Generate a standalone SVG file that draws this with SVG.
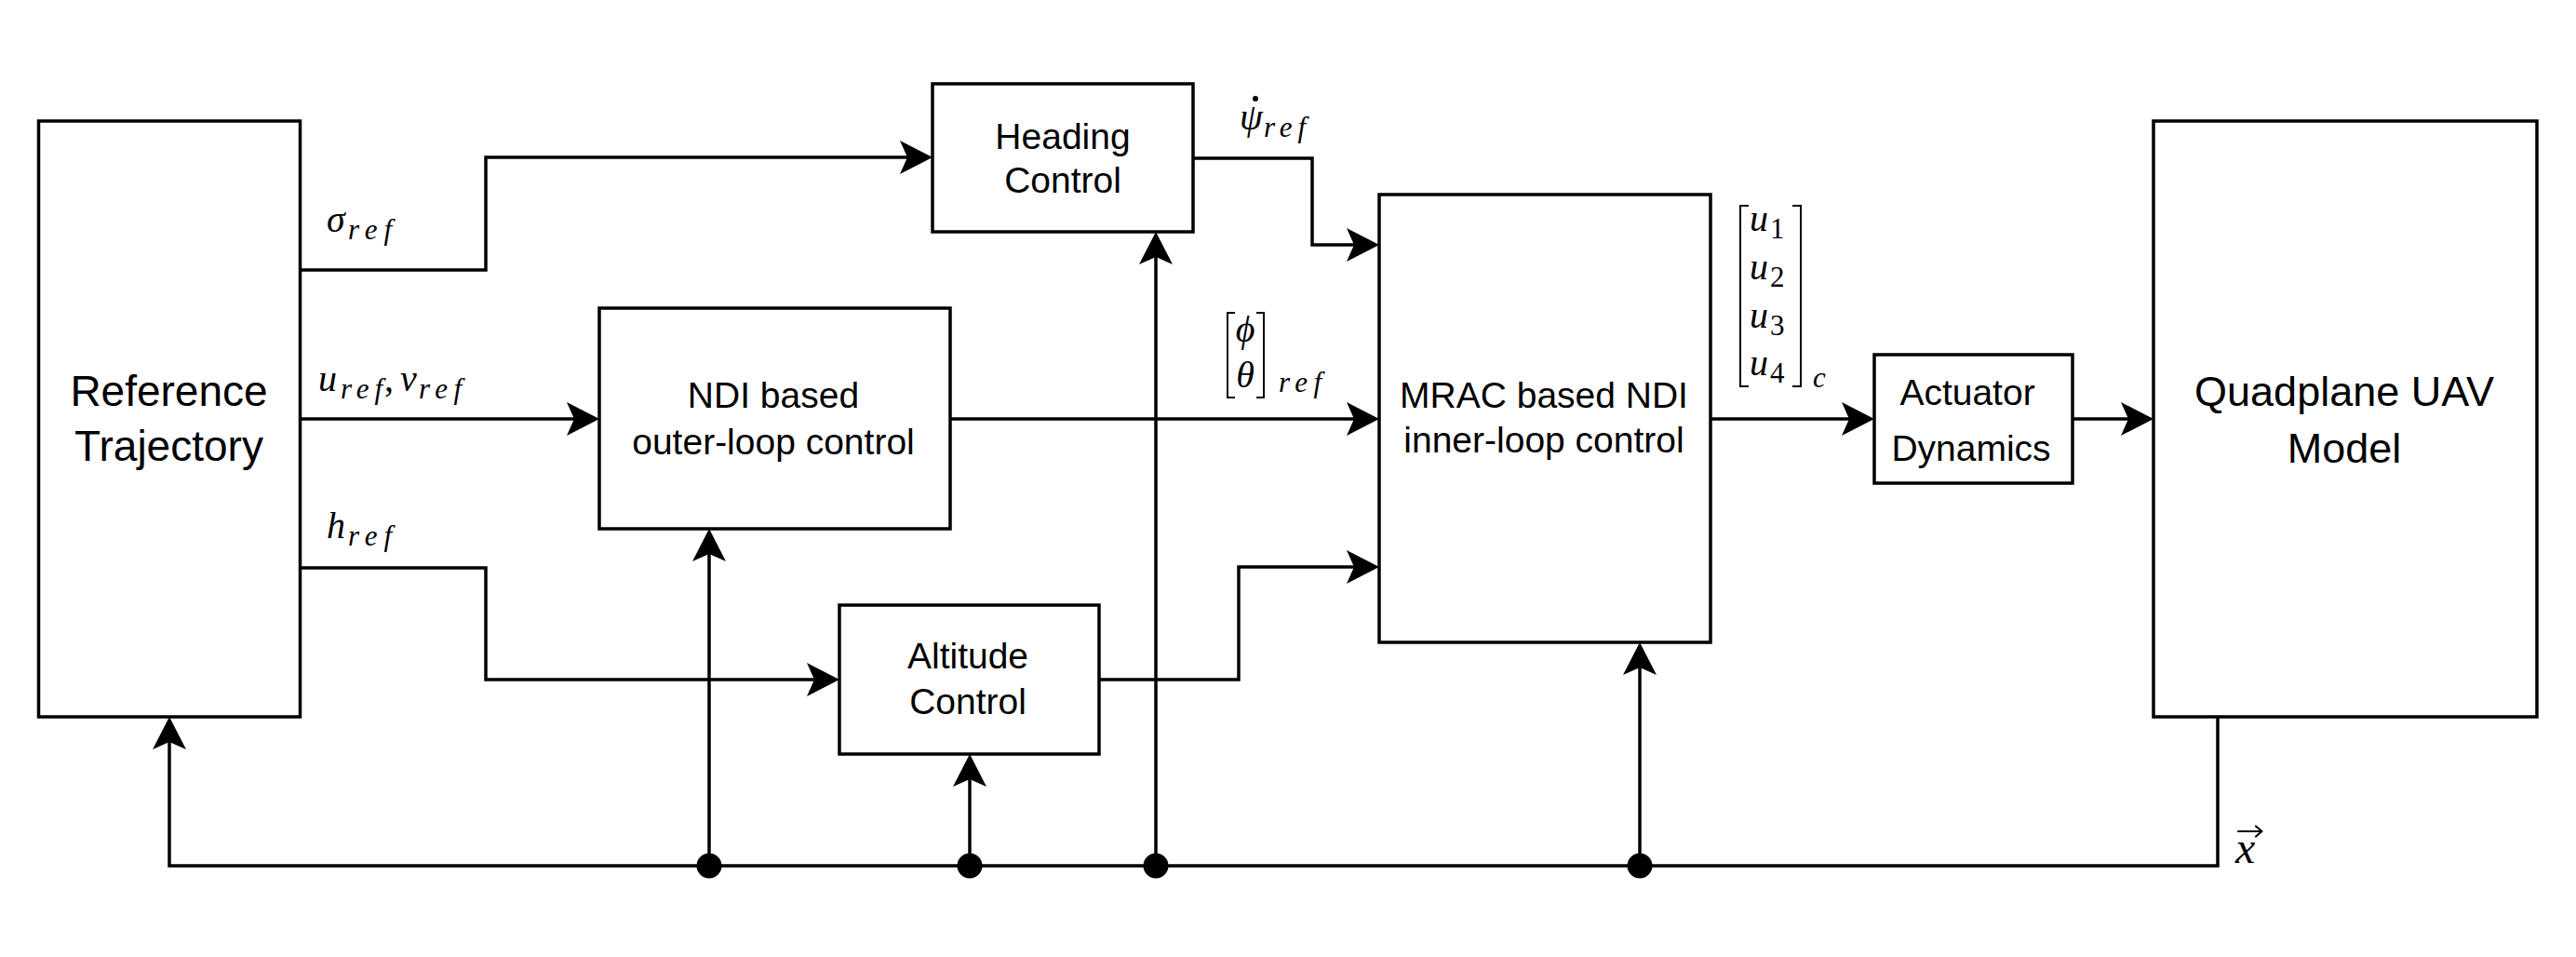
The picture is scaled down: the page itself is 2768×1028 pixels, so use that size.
<svg xmlns="http://www.w3.org/2000/svg" width="2768" height="1028" viewBox="0 0 2768 1028">
  <style>
    .box { fill: #ffffff; stroke: #000000; stroke-width: 3.5; }
    .wire { fill: none; stroke: #000000; stroke-width: 3.5; stroke-linejoin: miter; }
    .arr { marker-end: url(#ah); }
    .dot { fill: #000000; }
    .lbl { font-family: "Liberation Sans", Arial, Helvetica, sans-serif; font-size: 39px; text-anchor: middle; fill: #000000; }
    .big { font-size: 46px; }
    .q { font-size: 45px; }
    .m { font-family: "Liberation Serif", "DejaVu Serif", serif; font-style: italic; font-size: 40px; fill: #000000; }
    .s { font-size: 31px; }
    .up { font-style: normal; }
    .xv { font-size: 48px; }
    .br { fill: none; stroke: #000000; stroke-width: 2; }
    .accent { fill: none; stroke: #000000; stroke-width: 2.2; stroke-linecap: round; stroke-linejoin: round; }
  </style>
  <defs>
    <marker id="ah" markerUnits="userSpaceOnUse" viewBox="-9 -19 37 38" refX="0" refY="0" markerWidth="37" markerHeight="38" orient="auto">
      <path d="M27,0 L-8,-18 L0,0 L-8,18 Z" fill="#000000"/>
    </marker>
  </defs>
  <rect width="2768" height="1028" fill="#ffffff"/>

  <g id="connectors">
    <path class="wire arr" d="M322,290 H522 V169 H975"/>
    <path class="wire arr" d="M322,450 H617"/>
    <path class="wire arr" d="M322,610 H522 V730 H875"/>
    <path class="wire arr" d="M1282,170 H1410 V263 H1455"/>
    <path class="wire arr" d="M1021,450 H1455"/>
    <path class="wire arr" d="M1181,730 H1331 V609 H1455"/>
    <path class="wire arr" d="M1838,450 H1987"/>
    <path class="wire arr" d="M2227,450 H2287"/>
    <path class="wire arr" d="M2383,770 V930 H182 V797"/>
    <path class="wire arr" d="M762,930 V595"/>
    <path class="wire arr" d="M1042,930 V837"/>
    <path class="wire arr" d="M1242,930 V276"/>
    <path class="wire arr" d="M1762,930 V717"/>
    <circle class="dot" cx="762" cy="930" r="13.5"/>
    <circle class="dot" cx="1042" cy="930" r="13.5"/>
    <circle class="dot" cx="1242" cy="930" r="13.5"/>
    <circle class="dot" cx="1762" cy="930" r="13.5"/>
  </g>

  <g id="ref-trajectory">
    <rect class="box" x="41.5" y="130" width="281" height="640"/>
    <text class="lbl big" x="181.5" y="436">Reference</text>
    <text class="lbl big" x="181.5" y="495">Trajectory</text>
  </g>

  <g id="heading-control">
    <rect class="box" x="1002" y="90" width="280" height="159"/>
    <text class="lbl" x="1142" y="160">Heading</text>
    <text class="lbl" x="1142" y="207">Control</text>
  </g>

  <g id="ndi-outer">
    <rect class="box" x="644" y="331" width="377" height="237"/>
    <text class="lbl" x="831" y="438">NDI based</text>
    <text class="lbl" x="831" y="488">outer-loop control</text>
  </g>

  <g id="altitude-control">
    <rect class="box" x="902" y="650" width="279" height="160"/>
    <text class="lbl" x="1040" y="718">Altitude</text>
    <text class="lbl" x="1040" y="767">Control</text>
  </g>

  <g id="mrac-inner">
    <rect class="box" x="1482" y="209" width="356" height="481"/>
    <text class="lbl" x="1659" y="438">MRAC based NDI</text>
    <text class="lbl" x="1659" y="486">inner-loop control</text>
  </g>

  <g id="actuator">
    <rect class="box" x="2014" y="381" width="213" height="138"/>
    <text class="lbl" x="2114" y="435">Actuator</text>
    <text class="lbl" x="2118" y="495">Dynamics</text>
  </g>

  <g id="quadplane">
    <rect class="box" x="2314" y="130" width="412" height="640"/>
    <text class="lbl q" x="2519" y="436">Quadplane UAV</text>
    <text class="lbl q" x="2519" y="497">Model</text>
  </g>

  <g id="labels">
    <text class="m" x="351" y="249">σ<tspan class="s" x="374" y="257" textLength="47" lengthAdjust="spacing">ref</tspan></text>

    <text class="m" x="342" y="420">u<tspan class="s" x="366" y="428" textLength="45" lengthAdjust="spacing">ref</tspan><tspan class="up" x="413" y="420">,</tspan><tspan x="430" y="420">v</tspan><tspan class="s" x="450" y="428" textLength="46" lengthAdjust="spacing">ref</tspan></text>

    <text class="m" x="351" y="578">h<tspan class="s" x="374" y="586" textLength="47" lengthAdjust="spacing">ref</tspan></text>

    <text class="m" x="1332" y="139">ψ<tspan class="s" x="1358" y="147" textLength="45" lengthAdjust="spacing">ref</tspan></text>
    <circle class="dot" cx="1349" cy="106" r="3"/>

    <path class="br" d="M1327,336 H1319 V427 H1327 M1350,336 H1358 V427 H1350"/>
    <text class="m" x="1338" y="367" text-anchor="middle">ϕ</text>
    <text class="m" x="1338" y="416" text-anchor="middle">θ</text>
    <text class="m s" x="1374" y="421" textLength="46" lengthAdjust="spacing">ref</text>

    <path class="br" d="M1879,221 H1870 V415 H1879 M1926,221 H1935 V415 H1926"/>
    <text class="m" x="1880" y="248">u<tspan class="s up" x="1902" y="256">1</tspan></text>
    <text class="m" x="1880" y="300">u<tspan class="s up" x="1902" y="308">2</tspan></text>
    <text class="m" x="1880" y="352">u<tspan class="s up" x="1902" y="360">3</tspan></text>
    <text class="m" x="1880" y="403">u<tspan class="s up" x="1902" y="411">4</tspan></text>
    <text class="m s" x="1948" y="416">c</text>

    <text class="m xv" x="2402" y="927">x</text>
    <path class="accent" d="M2405,893 H2430 M2424,887.5 L2430.5,893 L2424,898.5"/>
  </g>
</svg>
